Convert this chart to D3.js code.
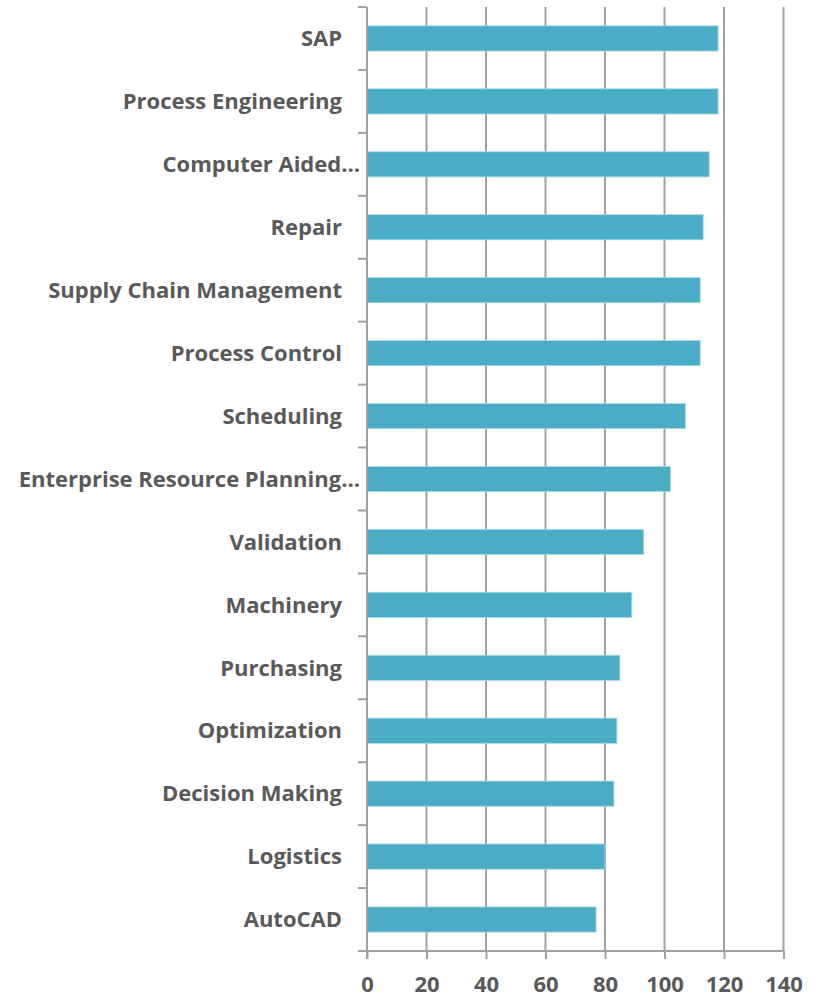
<!DOCTYPE html>
<html>
<head>
<meta charset="utf-8">
<script src="https://cdn.jsdelivr.net/npm/d3@7"></script>
<style>
  body { margin: 0; background: #fff; }
  text { font-family: "Open Sans", sans-serif; font-weight: bold; fill: #595959; }
</style>
</head>
<body>
<div id="chart"></div>
<script>
var categories = ["SAP", "Process Engineering", "Computer Aided\u2026", "Repair",
    "Supply Chain Management", "Process Control", "Scheduling",
    "Enterprise Resource Planning\u2026", "Validation", "Machinery", "Purchasing",
    "Optimization", "Decision Making", "Logistics", "AutoCAD"];
var values = [118, 118, 115, 113, 112, 112, 107, 102, 93, 89, 85, 84, 83, 80, 77];
var xTicks = [0, 20, 40, 60, 80, 100, 120, 140];

var wt = 823;
var ht = 999;
var margin = {top: 7, right: 39.5, bottom: 48, left: 367};
var width = wt - margin.left - margin.right;
var height = ht - margin.top - margin.bottom;

var svg = d3.select("#chart").append("svg")
    .attr("width", wt)
    .attr("height", ht);
var g = svg.append("g")
    .attr("transform", "translate(" + margin.left + "," + margin.top + ")");

var x = d3.scaleLinear()
    .domain([0, 140])
    .range([0, width]);

var y = d3.scaleBand()
    .domain(categories)
    .range([0, height])
    .paddingInner(0.6)
    .paddingOuter(0.3);

var gridColor = "#a0a0a0";

// vertical gridlines
g.selectAll(".grid")
    .data(xTicks.slice(1))
    .enter().append("line")
    .attr("class", "grid")
    .attr("x1", function (d) { return x(d); })
    .attr("x2", function (d) { return x(d); })
    .attr("y1", 0)
    .attr("y2", height)
    .attr("stroke", gridColor)
    .attr("stroke-width", 2);

// bars
g.selectAll(".bar")
    .data(values)
    .enter().append("rect")
    .attr("class", "bar")
    .attr("x", x(0))
    .attr("y", function (d, i) { return y(categories[i]); })
    .attr("width", function (d) { return x(d) - x(0); })
    .attr("height", y.bandwidth())
    .attr("fill", "#4bacc6")
    .attr("stroke", "#a9d9e6")
    .attr("stroke-width", 0.8);

// x axis
var xAxis = g.append("g")
    .attr("transform", "translate(0," + height + ")")
    .call(d3.axisBottom(x).tickValues(xTicks).tickSize(8).tickPadding(17));
xAxis.select(".domain").remove();
xAxis.selectAll(".tick line").attr("stroke", gridColor).attr("stroke-width", 2);
xAxis.selectAll(".tick text")
    .style("font-size", "22px")
    .attr("fill", "#595959");

// y axis: line plus ticks on band boundaries
var step = y.step();
var bounds = categories.map(function (c) { return y(c) - step * y.paddingOuter(); });
bounds.push(height);
g.selectAll(".ytick")
    .data(bounds)
    .enter().append("line")
    .attr("class", "ytick")
    .attr("x1", -9)
    .attr("x2", 0)
    .attr("y1", function (d) { return d; })
    .attr("y2", function (d) { return d; })
    .attr("stroke", gridColor)
    .attr("stroke-width", 2);
g.append("line")
    .attr("x1", -9).attr("x2", width)
    .attr("y1", height).attr("y2", height)
    .attr("stroke", gridColor).attr("stroke-width", 2);
g.append("line")
    .attr("x1", 0).attr("x2", 0)
    .attr("y1", 0).attr("y2", height + 8)
    .attr("stroke", gridColor).attr("stroke-width", 2);

// category labels
g.selectAll(".label")
    .data(categories)
    .enter().append("text")
    .attr("class", "label")
    .attr("x", function (d) { return d.slice(-1) === "\u2026" ? -7 : -25; })
    .attr("y", function (d) { return y(d) + y.bandwidth() / 2; })
    .attr("dy", "0.35em")
    .attr("text-anchor", "end")
    .style("font-size", "22px")
    .text(function (d) { return d; });
</script>
</body>
</html>
